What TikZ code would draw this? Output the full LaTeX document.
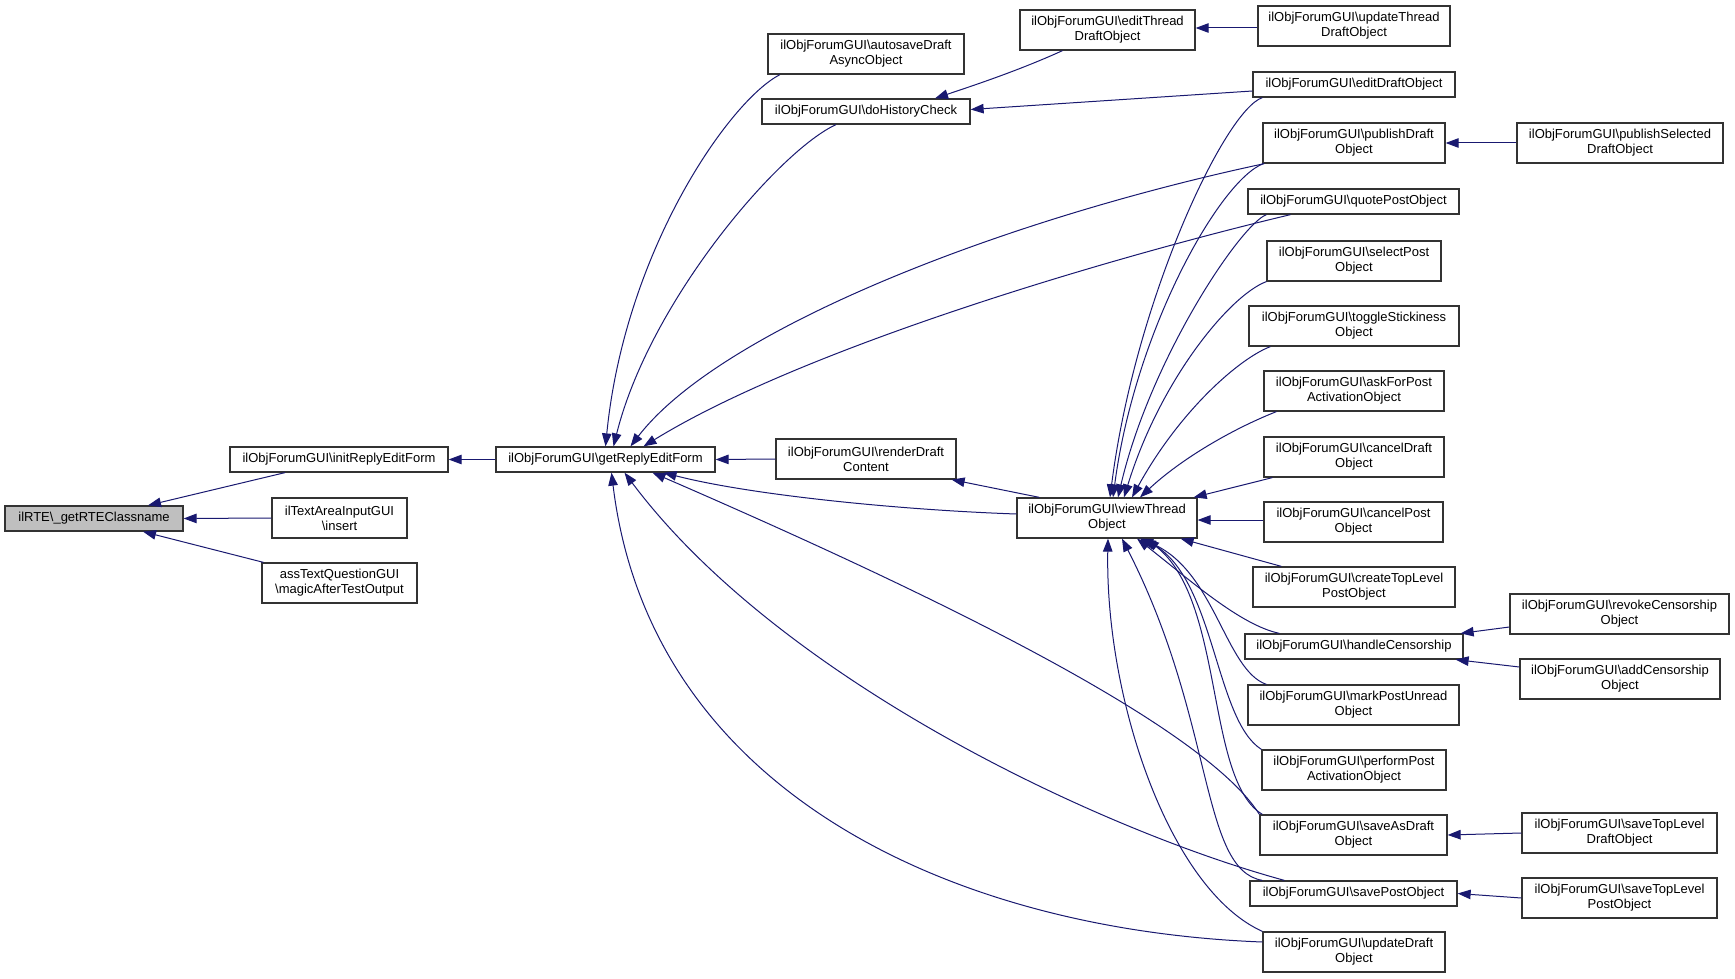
\documentclass[tikz,border=0pt]{standalone}
\usepackage{fontspec}
\setmainfont{Liberation Sans}
\usetikzlibrary{arrows.meta}
\definecolor{edgeblue}{RGB}{25,25,112}
\newcommand{\BSx}{\textbackslash{}}
\begin{document}
\begin{tikzpicture}[x=1pt,y=-1pt,
  box/.style={draw=black!80, line width=1.25pt, inner sep=0pt, align=center, fill=white,
              font=\fontsize{13}{15}\selectfont},
  one/.style={box, minimum height=25pt},
  two/.style={box, minimum height=40pt},
  edge/.style={draw=edgeblue, line width=1pt, -{Triangle[length=13pt,width=9.5pt]}}]
\fill[white] (0,0) rectangle (1735,979);
\useasboundingbox (0,0) rectangle (1735,979);

% nodes
\node[one, fill=black!25, minimum width=178pt] (rte) at (94,518.5) {ilRTE\BSx\_getRTEClassname};
\node[one, minimum width=218pt] (init) at (339,459.5) {ilObjForumGUI\BSx initReplyEditForm};
\node[two, minimum width=135pt] (textarea) at (339.5,518) {ilTextAreaInputGUI\\\BSx insert};
\node[two, minimum width=155pt] (asstext) at (339.5,583) {assTextQuestionGUI\\\BSx magicAfterTestOutput};
\node[one, minimum width=219pt] (getreply) at (605.5,459.5) {ilObjForumGUI\BSx getReplyEditForm};
\node[two, minimum width=196pt] (autosave) at (866,54) {ilObjForumGUI\BSx autosaveDraft\\AsyncObject};
\node[one, minimum width=208pt] (dohistory) at (866,111.5) {ilObjForumGUI\BSx doHistoryCheck};
\node[two, minimum width=180pt] (render) at (866,459) {ilObjForumGUI\BSx renderDraft\\Content};
\node[two, minimum width=175pt] (editthread) at (1107.5,30) {ilObjForumGUI\BSx editThread\\DraftObject};
\node[two, minimum width=192pt] (updthread) at (1354,26) {ilObjForumGUI\BSx updateThread\\DraftObject};
\node[one, minimum width=202pt] (editdraft) at (1354,84.5) {ilObjForumGUI\BSx editDraftObject};
\node[two, minimum width=182pt] (pubdraft) at (1354,143) {ilObjForumGUI\BSx publishDraft\\Object};
\node[two, minimum width=206pt] (pubsel) at (1620,143) {ilObjForumGUI\BSx publishSelected\\DraftObject};
\node[one, minimum width=211pt] (quote) at (1353.5,201.5) {ilObjForumGUI\BSx quotePostObject};
\node[two, minimum width=174pt] (select) at (1354,261) {ilObjForumGUI\BSx selectPost\\Object};
\node[two, minimum width=210pt] (toggle) at (1354,326) {ilObjForumGUI\BSx toggleStickiness\\Object};
\node[two, minimum width=180pt] (askfor) at (1354,391) {ilObjForumGUI\BSx askForPost\\ActivationObject};
\node[two, minimum width=180pt] (canceldraft) at (1354,457) {ilObjForumGUI\BSx cancelDraft\\Object};
\node[two, minimum width=180pt] (view) at (1107,518) {ilObjForumGUI\BSx viewThread\\Object};
\node[two, minimum width=179pt] (cancelpost) at (1353.5,522) {ilObjForumGUI\BSx cancelPost\\Object};
\node[two, minimum width=202pt] (createtop) at (1354,587) {ilObjForumGUI\BSx createTopLevel\\PostObject};
\node[one, minimum width=218pt] (handle) at (1354,646.5) {ilObjForumGUI\BSx handleCensorship};
\node[two, minimum width=219pt] (revoke) at (1619.5,614) {ilObjForumGUI\BSx revokeCensorship\\Object};
\node[two, minimum width=200pt] (addcens) at (1620,679) {ilObjForumGUI\BSx addCensorship\\Object};
\node[two, minimum width=211pt] (markunread) at (1353.5,705) {ilObjForumGUI\BSx markPostUnread\\Object};
\node[two, minimum width=184pt] (perform) at (1354,770) {ilObjForumGUI\BSx performPost\\ActivationObject};
\node[two, minimum width=187pt] (saveasdraft) at (1353.5,835) {ilObjForumGUI\BSx saveAsDraft\\Object};
\node[two, minimum width=195pt] (savetopdraft) at (1619.5,833) {ilObjForumGUI\BSx saveTopLevel\\DraftObject};
\node[one, minimum width=207pt] (savepost) at (1353.5,893.5) {ilObjForumGUI\BSx savePostObject};
\node[two, minimum width=195pt] (savetoppost) at (1619.5,898) {ilObjForumGUI\BSx saveTopLevel\\PostObject};
\node[two, minimum width=182pt] (upddraft) at (1354,952) {ilObjForumGUI\BSx updateDraft\\Object};

% edges to ilRTE
\draw[edge] ([xshift=-54pt]init.south) -- ([xshift=54pt]rte.north);
\draw[edge] (textarea.west) -- (rte.east);
\draw[edge] ([xshift=-76pt]asstext.north) -- ([xshift=49pt]rte.south);
\draw[edge] (getreply.west) -- (init.east);

% edges to getReplyEditForm
\draw[edge] ([xshift=-86pt]autosave.south) .. controls (730,100) and (625,250) .. (getreply.north);
\draw[edge] ([xshift=-30pt]dohistory.south) .. controls (780,150) and (650,300) .. ([xshift=8pt]getreply.north);
\draw[edge] ([xshift=2pt]pubdraft.south west) .. controls (1000,220) and (720,330) .. ([xshift=25pt]getreply.north);
\draw[edge] ([xshift=-63pt]quote.south) .. controls (1100,260) and (800,350) .. ([xshift=38pt]getreply.north);
\draw[edge] (render.west) -- (getreply.east);
\draw[edge] ([yshift=4pt]view.west) .. controls (900,510) and (750,495) .. ([xshift=58pt]getreply.south);
\draw[edge] (saveasdraft.north west) .. controls (1200,720) and (900,580) .. ([xshift=47pt]getreply.south);
\draw[edge] ([xshift=35pt]savepost.north west) .. controls (1100,830) and (780,680) .. ([xshift=19pt]getreply.south);
\draw[edge] ([yshift=10pt]upddraft.west) .. controls (950,930) and (650,790) .. ([xshift=6pt]getreply.south);

% other edges
\draw[edge] ([xshift=23pt]view.north west) -- ([xshift=-5pt]render.south east);
\draw[edge] ([xshift=-45pt]editthread.south) .. controls (1020,70) and (975,85) .. ([xshift=69pt]dohistory.north);
\draw[edge] ([yshift=-6.5pt]editdraft.west) -- ([yshift=2pt]dohistory.east);
\draw[edge] ([yshift=-2pt]updthread.west) -- ([yshift=2pt]editthread.east);
\draw[edge] (pubsel.west) -- (pubdraft.east);
\draw[edge] ([yshift=-13pt]revoke.west) -- ([xshift=-3pt]handle.north east);
\draw[edge] ([yshift=12pt]addcens.west) -- ([xshift=-8pt]handle.south east);
\draw[edge] (savetopdraft.west) -- (saveasdraft.east);
\draw[edge] (savetoppost.west) -- (savepost.east);

% edges to viewThreadObject
\draw[edge] ([xshift=10pt]editdraft.south west) .. controls (1225,110) and (1135,300) .. ([xshift=3pt]view.north);
\draw[edge] ([xshift=1pt]pubdraft.south west) .. controls (1220,180) and (1135,330) .. ([xshift=6pt]view.north);
\draw[edge] ([xshift=19pt]quote.south west) .. controls (1240,225) and (1150,360) .. ([xshift=11pt]view.north);
\draw[edge] (select.south west) .. controls (1230,295) and (1160,380) .. ([xshift=17pt]view.north);
\draw[edge] ([xshift=22pt]toggle.south west) .. controls (1240,358) and (1180,410) .. ([xshift=25pt]view.north);
\draw[edge] ([xshift=13pt]askfor.south west) .. controls (1230,430) and (1180,460) .. ([xshift=33pt]view.north);
\draw[edge] ([xshift=9pt]canceldraft.south west) -- ([xshift=-4pt]view.north east);
\draw[edge] ([yshift=2pt]cancelpost.west) -- ([yshift=-2pt]view.east);
\draw[edge] ([xshift=29pt]createtop.north west) -- ([xshift=-17pt]view.south east);
\draw[edge] ([xshift=35pt]handle.north west) .. controls (1240,625) and (1190,580) .. ([xshift=30pt]view.south);
\draw[edge] ([xshift=19pt]markunread.north west) .. controls (1225,670) and (1215,570) .. ([xshift=33pt]view.south);
\draw[edge] (perform.north west) .. controls (1215,720) and (1215,580) .. ([xshift=36pt]view.south);
\draw[edge] ([xshift=3pt]saveasdraft.north west) .. controls (1205,780) and (1225,600) .. ([xshift=39pt]view.south);
\draw[edge] ([xshift=13pt]savepost.north west) .. controls (1200,870) and (1215,720) .. ([xshift=15pt]view.south);
\draw[edge] (upddraft.north west) .. controls (1170,890) and (1105,700) .. ([xshift=1pt]view.south);
\end{tikzpicture}
\end{document}
